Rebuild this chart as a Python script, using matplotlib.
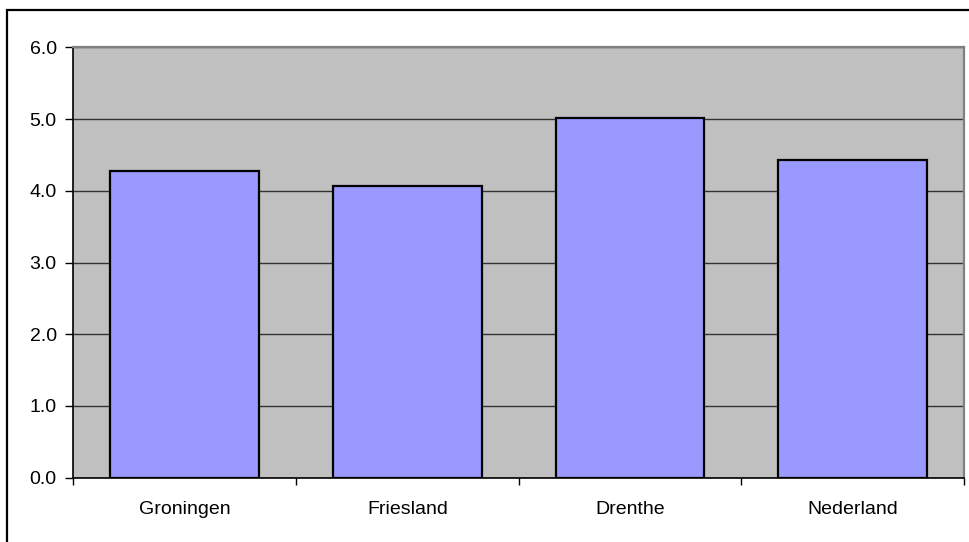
import matplotlib
matplotlib.use("Agg")
import matplotlib.pyplot as plt
from matplotlib.patches import Rectangle

categories = ["Groningen", "Friesland", "Drenthe", "Nederland"]
values = [4.27, 4.06, 5.02, 4.43]
yticks = [0.0, 1.0, 2.0, 3.0, 4.0, 5.0, 6.0]

plt.rcParams['font.family'] = ['Liberation Sans', 'DejaVu Sans']

W, H = 969, 542
fig = plt.figure(figsize=(W / 100, H / 100), dpi=100)
ax = fig.add_axes([73.3 / W, 1 - 477.7 / H, (964 - 73.3) / W, (477.7 - 47.3) / H])
ax.set_facecolor('#C0C0C0')

x = list(range(len(categories)))
ax.bar(x, values, width=0.667, color='#9999FF', edgecolor='black', linewidth=1.6, zorder=3)

ax.set_xlim(-0.5, len(categories) - 0.5)
ax.set_ylim(0, 6)
ax.set_yticks(yticks)
ax.set_yticklabels([f"{v:.1f}" for v in yticks], fontsize=14)
ax.yaxis.grid(True, color='#333333', linewidth=1.0, zorder=1)
ax.set_axisbelow(True)

ax.set_xticks(x)
ax.set_xticklabels(categories, fontsize=14)
ax.tick_params(axis='x', length=0, pad=17)
ax.set_xticks([i + 0.5 for i in range(-1, len(categories))], minor=True)
ax.tick_params(axis='x', which='minor', length=5, width=1, color='black', direction='out')
ax.tick_params(axis='y', length=6, width=1, color='black', pad=6, direction='out')

for s in ['left', 'bottom']:
    ax.spines[s].set_color('black')
    ax.spines[s].set_linewidth(1.2)
for s in ['top', 'right']:
    ax.spines[s].set_color('#808080')
    ax.spines[s].set_linewidth(1.6)

frame = Rectangle((7 / W, -0.1), 1.1, 1 - 10 / H + 0.1, transform=fig.transFigure,
                  fill=False, edgecolor='black', linewidth=1.6)
fig.patches.append(frame)

fig.savefig("out.png", dpi=100)
